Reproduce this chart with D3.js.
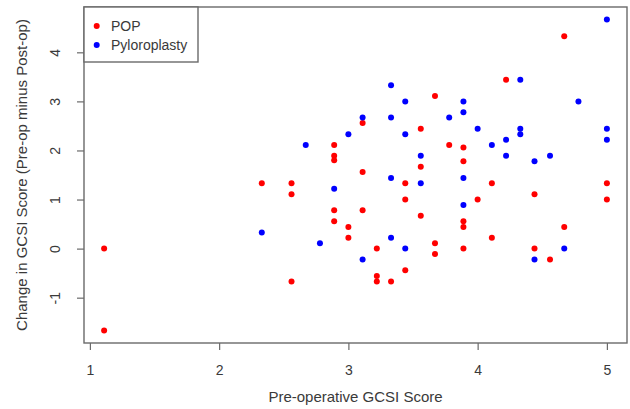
<!DOCTYPE html>
<html>
<head>
<meta charset="utf-8">
<script src="https://cdn.jsdelivr.net/npm/d3@7"></script>
<style>
    body { margin: 0; background: white; }
    text { font-family: "Liberation Sans", Arial, sans-serif; }
</style>
</head>
<body>
<div id="chart"></div>
<script>
// Pre-operative GCSI score (x) and change in score (y) for each patient
var pop_x = [1.11, 1.11, 2.33, 2.56, 2.56, 2.56, 2.89, 2.89, 2.89, 2.89, 2.89,
    3.0, 3.0, 3.11, 3.11, 3.11, 3.22, 3.22, 3.22, 3.33, 3.44, 3.44, 3.44,
    3.56, 3.56, 3.56, 3.67, 3.67, 3.67, 3.78, 3.89, 3.89, 3.89, 3.89, 3.89,
    4.0, 4.11, 4.11, 4.22, 4.44, 4.44, 4.56, 4.67, 4.67, 5.0, 5.0];
var pop_y = [0, -1.67, 1.33, 1.33, 1.11, -0.67, 2.11, 1.89, 1.8, 0.78, 0.56,
    0.44, 0.22, 2.56, 1.56, 0.78, 0, -0.56, -0.67, -0.67, 1.33, 1.0, -0.44,
    2.44, 1.67, 0.67, 3.11, 0.11, -0.11, 2.11, 2.06, 1.78, 0.56, 0.44, 0,
    1.0, 1.33, 0.22, 3.44, 1.11, 0, -0.22, 4.33, 0.44, 1.33, 1.0];

var pyl_x = [2.33, 2.67, 2.78, 2.89, 3.0, 3.11, 3.11, 3.33, 3.33, 3.33, 3.33,
    3.44, 3.44, 3.44, 3.56, 3.56, 3.78, 3.89, 3.89, 3.89, 3.89, 4.0, 4.11,
    4.22, 4.22, 4.33, 4.33, 4.33, 4.44, 4.44, 4.56, 4.67, 4.78, 5.0, 5.0, 5.0];
var pyl_y = [0.33, 2.11, 0.11, 1.22, 2.33, 2.67, -0.22, 3.33, 2.67, 1.44, 0.22,
    3.0, 2.33, 0, 1.89, 1.33, 2.67, 3.0, 2.78, 1.44, 0.89, 2.44, 2.11,
    2.22, 1.89, 3.44, 2.44, 2.33, 1.78, -0.22, 1.89, 0, 3.0, 4.67, 2.44, 2.22];

var series_names = ["POP", "Pyloroplasty"];
var series_colors = ["#ff0000", "#0000ff"];
var x_ticks = [1, 2, 3, 4, 5];
var y_ticks = [-1, 0, 1, 2, 3, 4];

var width = 630;
var height = 409;
var margin = {top: 7, right: 3, bottom: 66, left: 84};

var svg = d3.select("#chart")
    .append("svg")
    .attr("width", width)
    .attr("height", height);

var points = [];
for (var i = 0; i < pop_x.length; i++) {
    points.push({x: pop_x[i], y: pop_y[i], s: 0});
}
for (var i = 0; i < pyl_x.length; i++) {
    points.push({x: pyl_x[i], y: pyl_y[i], s: 1});
}

// R style axis range: data extent plus 4% each side
function pad(ext) {
    var d = (ext[1] - ext[0]) * 0.04;
    return [ext[0] - d, ext[1] + d];
}

var x = d3.scaleLinear()
    .domain(pad(d3.extent(points, d => d.x)))
    .range([margin.left, width - margin.right]);
var y = d3.scaleLinear()
    .domain(pad(d3.extent(points, d => d.y)))
    .range([height - margin.bottom, margin.top]);

var axis_color = "#6a6a6a";
var text_color = "#3a3a3a";
var plain = d => String(d);   // hyphen minus, like R

// x axis
var gx = svg.append("g")
    .attr("transform", "translate(0," + (height - margin.bottom) + ")")
    .call(d3.axisBottom(x).tickValues(x_ticks).tickSize(7).tickPadding(15)
        .tickFormat(plain));
gx.select(".domain").remove();
gx.selectAll("line").attr("stroke", axis_color).attr("stroke-width", 1.2);
gx.selectAll("text")
    .attr("fill", text_color)
    .style("font-size", "14px");

// y axis, labels turned like R's default
var gy = svg.append("g")
    .attr("transform", "translate(" + margin.left + ",0)")
    .call(d3.axisLeft(y).tickValues(y_ticks).tickSize(7).tickFormat(plain));
gy.select(".domain").remove();
gy.selectAll("line").attr("stroke", axis_color).attr("stroke-width", 1.2);
gy.selectAll("text")
    .attr("fill", text_color)
    .style("font-size", "14px")
    .attr("text-anchor", "middle")
    .attr("dy", null)
    .attr("x", null)
    .attr("transform", "translate(-29,0) rotate(-90)")
    .attr("y", 5);

// plot box
svg.append("rect")
    .attr("x", x.range()[0])
    .attr("y", y.range()[1])
    .attr("width", x.range()[1] - x.range()[0])
    .attr("height", y.range()[0] - y.range()[1])
    .attr("fill", "none")
    .attr("stroke", axis_color)
    .attr("stroke-width", 1.4);

// axis titles
svg.append("text")
    .attr("x", (x.range()[0] + x.range()[1]) / 2)
    .attr("y", 402)
    .attr("text-anchor", "middle")
    .attr("fill", text_color)
    .style("font-size", "15px")
    .text("Pre-operative GCSI Score");

svg.append("text")
    .attr("transform", "translate(27," + ((y.range()[0] + y.range()[1]) / 2) + ") rotate(-90)")
    .attr("text-anchor", "middle")
    .attr("fill", text_color)
    .style("font-size", "15px")
    .text("Change in GCSI Score (Pre-op minus Post-op)");

// the points
svg.append("g")
    .selectAll("circle")
    .data(points)
    .enter()
    .append("circle")
    .attr("cx", d => x(d.x))
    .attr("cy", d => y(d.y))
    .attr("r", 3)
    .attr("fill", d => series_colors[d.s]);

// legend in the top left corner
var legend = svg.append("g")
    .attr("transform", "translate(" + x.range()[0] + "," + y.range()[1] + ")");
legend.append("rect")
    .attr("width", 114)
    .attr("height", 55)
    .attr("fill", "white")
    .attr("stroke", axis_color)
    .attr("stroke-width", 1.4);
var items = legend.selectAll(".item")
    .data(series_names)
    .enter()
    .append("g")
    .attr("transform", (d, i) => "translate(0," + (19 + i * 19) + ")");
items.append("circle")
    .attr("cx", 12.7)
    .attr("r", 3)
    .attr("fill", (d, i) => series_colors[i]);
items.append("text")
    .attr("x", 27)
    .attr("dy", "0.35em")
    .attr("fill", text_color)
    .style("font-size", "14px")
    .text(d => d);
</script>
</body>
</html>
